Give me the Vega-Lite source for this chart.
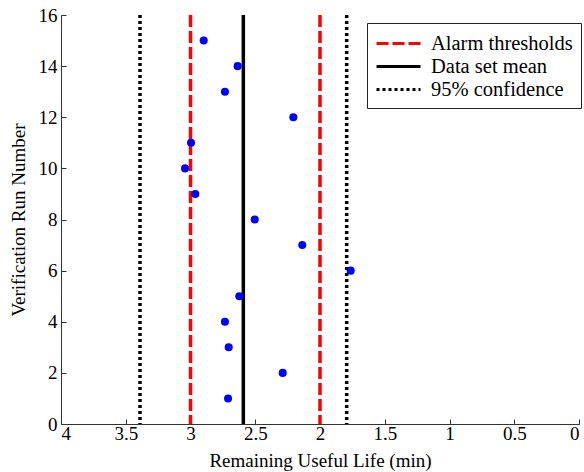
{
  "$schema": "https://vega.github.io/schema/vega-lite/v6.json",
  "width": 518,
  "height": 409,
  "autosize": {"type": "none"},
  "padding": {"left": 61, "top": 15, "right": 5, "bottom": 48},
  "background": "white",
  "config": {
    "view": {"stroke": null},
    "font": "Liberation Serif",
    "style": {
      "guide-label": {"font": "Liberation Serif", "fontSize": 19, "fill": "#000000"},
      "guide-title": {"font": "Liberation Serif", "fontSize": 19, "fill": "#000000", "fontWeight": "normal"}
    },
    "axis": {
      "grid": false,
      "domainColor": "#333333",
      "tickColor": "#333333",
      "labelFont": "Liberation Serif",
      "titleFont": "Liberation Serif",
      "titleFontSize": 19,
      "labelColor": "#000000",
      "titleColor": "#000000",
      "titleFontWeight": "normal",
      "tickSize": -5
    },
    "legend": {
      "labelFont": "Liberation Serif",
      "labelFontSize": 20.5,
      "labelColor": "#000000"
    }
  },
  "datasets": {
    "lines": [
      {"x": 3.0, "series": "Alarm thresholds"},
      {"x": 2.0, "series": "Alarm thresholds"},
      {"x": 2.592, "series": "Data set mean"},
      {"x": 3.39, "series": "95% confidence"},
      {"x": 1.794, "series": "95% confidence"}
    ],
    "points": [
      {"rul": 2.710, "run": 1},
      {"rul": 2.288, "run": 2},
      {"rul": 2.705, "run": 3},
      {"rul": 2.734, "run": 4},
      {"rul": 2.623, "run": 5},
      {"rul": 1.763, "run": 6},
      {"rul": 2.137, "run": 7},
      {"rul": 2.504, "run": 8},
      {"rul": 2.963, "run": 9},
      {"rul": 3.042, "run": 10},
      {"rul": 2.996, "run": 11},
      {"rul": 2.206, "run": 12},
      {"rul": 2.734, "run": 13},
      {"rul": 2.636, "run": 14},
      {"rul": 2.898, "run": 15}
    ]
  },
  "layer": [
    {
      "data": {"name": "lines"},
      "mark": {"type": "rule", "strokeWidth": 3.5},
      "encoding": {
        "x": {
          "field": "x", "type": "quantitative",
          "scale": {"domain": [0, 4], "reverse": true, "nice": false},
          "axis": {
            "values": [0, 0.5, 1, 1.5, 2, 2.5, 3, 3.5, 4],
            "labelExpr": "'' + datum.value",
            "labelFont": "Liberation Serif",
            "labelFontSize": 19,
            "title": "Remaining Useful Life (min)",
            "labelPadding": 5,
            "titlePadding": 8
          }
        },
        "color": {
          "field": "series", "type": "nominal",
          "scale": {
            "domain": ["Alarm thresholds", "Data set mean", "95% confidence"],
            "range": ["#ff0000", "#000000", "#000000"]
          },
          "legend": {
            "title": null,
            "orient": "none",
            "legendX": 306,
            "legendY": 8,
            "strokeColor": "#222222",
            "fillColor": "#ffffff",
            "padding": 8,
            "cornerRadius": 0,
            "symbolType": "M-1,0H3",
            "symbolSize": 484,
            "symbolStrokeWidth": 3,
            "labelOffset": 31,
            "rowPadding": -3
          }
        },
        "strokeDash": {
          "field": "series", "type": "nominal",
          "scale": {
            "domain": ["Alarm thresholds", "Data set mean", "95% confidence"],
            "range": [[12, 4], [1, 0], [3, 3]]
          },
          "legend": {
            "title": null,
            "orient": "none",
            "legendX": 306,
            "legendY": 8,
            "strokeColor": "#222222",
            "fillColor": "#ffffff",
            "padding": 8,
            "cornerRadius": 0,
            "symbolType": "M-1,0H3",
            "symbolSize": 484,
            "symbolStrokeWidth": 3,
            "labelOffset": 31,
            "rowPadding": -3
          }
        }
      }
    },
    {
      "data": {"name": "points"},
      "mark": {"type": "point", "filled": true, "shape": "circle", "size": 65, "color": "#0000ff", "opacity": 1},
      "encoding": {
        "x": {"field": "rul", "type": "quantitative"},
        "y": {
          "field": "run", "type": "quantitative",
          "scale": {"domain": [0, 16], "nice": false},
          "axis": {
            "values": [0, 2, 4, 6, 8, 10, 12, 14, 16],
            "labelFont": "Liberation Serif",
            "labelFontSize": 19,
            "title": "Verification Run Number",
            "labelPadding": 9,
            "titlePadding": 10
          }
        }
      }
    }
  ]
}
